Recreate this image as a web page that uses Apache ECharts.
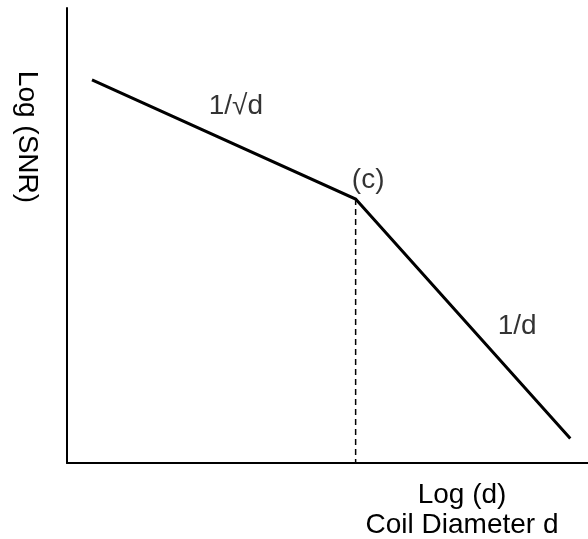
<!DOCTYPE html>
<html>
<head>
<meta charset="utf-8">
<script src="https://cdn.jsdelivr.net/npm/echarts@6/dist/echarts.min.js"></script>
<style>
  html, body { margin: 0; padding: 0; background: #fff; }
  #chart { width: 588px; height: 539px; }
</style>
</head>
<body>
<div id="chart"></div>
<script>
// Piecewise SNR curve on log-log axes (arbitrary units, 0..100)
const curveX = [4.8, 55.4, 96.6];
const curveY = [84.2, 58.0, 5.4];

// Vertical guide dropped from the knee point to the x axis
const guideX = [55.4, 55.4];
const guideY = [58.0, 0];

// Slope / point annotations
const noteText = ['1/\u221Ad', '(c)', '1/d'];
const noteX = [32.4, 57.8, 86.4];
const noteY = [78.5, 62.2, 30.1];

// Axis titles
const xTitle = ['Log (d)', 'Coil Diameter d'];
const yTitle = 'Log (SNR)';

const FONT = "'Liberation Sans', Arial, sans-serif";

const chart = echarts.init(document.getElementById('chart'), null, { renderer: 'canvas' });

const hiddenAxis = {
  type: 'value',
  min: 0,
  max: 100,
  axisLine: { show: true, lineStyle: { color: '#000', width: 2 } },
  axisTick: { show: false },
  axisLabel: { show: false },
  splitLine: { show: false }
};

chart.setOption({
  animation: false,
  backgroundColor: '#fff',
  grid: { left: 67, right: 0, top: 8, bottom: 76 },
  xAxis: Object.assign({}, hiddenAxis),
  yAxis: Object.assign({}, hiddenAxis),
  series: [
    {
      type: 'line',
      data: curveX.map((x, i) => [x, curveY[i]]),
      symbol: 'none',
      lineStyle: { color: '#000', width: 3, cap: 'butt', join: 'miter' },
      z: 3
    },
    {
      type: 'line',
      data: guideX.map((x, i) => [x, guideY[i]]),
      symbol: 'none',
      lineStyle: { color: '#000', width: 1.5, type: [6, 4] },
      z: 2
    },
    {
      type: 'scatter',
      data: noteX.map((x, i) => ({ value: [x, noteY[i]], name: noteText[i] })),
      symbolSize: 0,
      label: {
        show: true,
        position: 'inside',
        formatter: p => p.name,
        color: '#000',
        fontSize: 28,
        fontFamily: FONT
      },
      z: 4
    }
  ],
  graphic: [
    {
      type: 'text',
      x: 462, y: 495,
      style: {
        text: xTitle[0], fill: '#000', font: '28px ' + FONT,
        textAlign: 'center', textVerticalAlign: 'middle'
      }
    },
    {
      type: 'text',
      x: 462, y: 525,
      style: {
        text: xTitle[1], fill: '#000', font: '28px ' + FONT,
        textAlign: 'center', textVerticalAlign: 'middle'
      }
    },
    {
      type: 'text',
      x: 27, y: 137,
      rotation: -Math.PI / 2,
      style: {
        text: yTitle, fill: '#000', font: '28px ' + FONT,
        textAlign: 'center', textVerticalAlign: 'middle'
      }
    }
  ]
});
</script>
</body>
</html>
